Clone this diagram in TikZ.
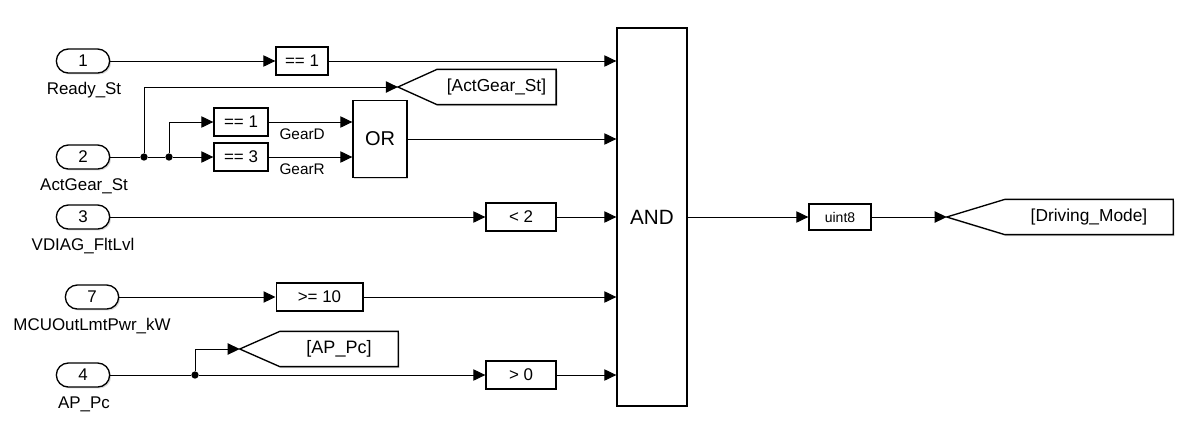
\documentclass[tikz,border=0pt]{standalone}
\usepackage{fontspec}
\setmainfont{Liberation Sans}
\usetikzlibrary{arrows.meta,shadows,calc}

\tikzset{
  blk/.style={draw, line width=1pt, fill=white,
    drop shadow={shadow xshift=1.1pt,shadow yshift=-1.1pt,fill=black!30}},
  inport/.style={blk, rounded corners=9pt, minimum width=40pt, minimum height=18pt, inner sep=0pt},
  cmpbox/.style={blk, minimum height=21pt, inner sep=0pt},
  tagtext/.style={minimum height=26pt, inner sep=0pt},
  lbl/.style={inner sep=0pt},
  sig/.style={line width=0.75pt},
  dot/.style={circle, fill, inner sep=0pt, minimum size=5.5pt},
  txt/.style={font=\fontsize{12.7}{15}\selectfont}
}

\begin{document}
\begin{tikzpicture}[x=0.75pt, y=-0.75pt, every node/.style={txt},
    >={Triangle[length=9pt,width=8.5pt]}]
  \useasboundingbox (0,0) rectangle (1185,426);

  % inports and their names
  \node[inport] (in1) at (83,61) {1};
  \node[lbl] (in1name) at (84,90) {Ready\_St};
  \node[inport] (in2) at (83,157) {2};
  \node[lbl] (in2name) at (84,186) {ActGear\_St};
  \node[inport] (in3) at (83,217) {3};
  \node[lbl] (in3name) at (83,246) {VDIAG\_FltLvl};
  \node[inport] (in7) at (92,297) {7};
  \node[lbl] (in7name) at (92,326) {MCUOutLmtPwr\_kW};
  \node[inport] (in4) at (83,375) {4};
  \node[lbl] (in4name) at (84,404) {AP\_Pc};

  % compare blocks
  \node[cmpbox, minimum width=39pt] (cmp1) at (302,61) {== 1};
  \node[cmpbox, minimum width=40.5pt] (cmpD) at (241,122) {== 1};
  \node[cmpbox, minimum width=40.5pt] (cmpR) at (241,157) {== 3};
  \node[cmpbox, minimum width=52.5pt] (cmp3) at (521,217) {< 2};
  \node[cmpbox, minimum width=65pt] (cmp7) at (319.5,297) {>= 10};
  \node[cmpbox, minimum width=52.5pt] (cmp4) at (521,375) {> 0};

  % logic blocks
  \node[blk, minimum width=40.5pt, minimum height=57.75pt,
    font=\fontsize{15}{18}\selectfont] (orblk) at (380,139) {OR};
  \node[blk, minimum width=52.5pt, minimum height=283.5pt,
    font=\fontsize{15.5}{18}\selectfont] (andblk) at (652,217) {AND};
  \node[cmpbox, minimum width=46.5pt, minimum height=19.5pt,
    font=\fontsize{10.5}{12}\selectfont] (cvt) at (840,217) {uint8};

  % goto tags
  \node[tagtext, minimum width=89pt, font=\fontsize{13}{15}\selectfont] (tagGear) at (496.5,87) {[ActGear\_St]};
  \coordinate (tagGearTip) at ($(tagGear.west)+(-39,0)$);
  \draw[blk] (tagGear.north west) -- (tagGear.north east) -- (tagGear.south east)
    -- (tagGear.south west) -- (tagGearTip) -- cycle;
  \node[tagtext, font=\fontsize{13}{15}\selectfont] at (tagGear) {[ActGear\_St]};

  \node[tagtext, minimum width=88.5pt, font=\fontsize{13.5}{15}\selectfont] (tagAP) at (339,349) {[AP\_Pc]};
  \coordinate (tagAPTip) at ($(tagAP.west)+(-40,0)$);
  \draw[blk] (tagAP.north west) -- (tagAP.north east) -- (tagAP.south east)
    -- (tagAP.south west) -- (tagAPTip) -- cycle;
  \node[tagtext, font=\fontsize{13.5}{15}\selectfont] at (tagAP) {[AP\_Pc]};

  \node[tagtext, minimum width=126pt, font=\fontsize{13}{15}\selectfont] (tagDrive) at (1089,217) {[Driving\_Mode]};
  \coordinate (tagDriveTip) at ($(tagDrive.west)+(-58,0)$);
  \draw[blk] (tagDrive.north west) -- (tagDrive.north east) -- (tagDrive.south east)
    -- (tagDrive.south west) -- (tagDriveTip) -- cycle;
  \node[tagtext, font=\fontsize{13}{15}\selectfont] at (tagDrive) {[Driving\_Mode]};

  % branch points
  \node[dot] (j1) at (144,157) {};
  \node[dot] (j2) at (169,157) {};
  \node[dot] (j3) at (195,375) {};

  % signal lines
  \draw[sig,->] (in1) -- (cmp1);
  \draw[sig,->] (cmp1) -- (cmp1 -| andblk.west);

  \draw[sig] (in2) -- (j1) -- (j2);
  \draw[sig,->] (j2) -- (cmpR);
  \draw[sig,->] (j2) |- (cmpD);
  \draw[sig,->] (j1) |- (tagGearTip);
  \draw[sig,->] (cmpD) -- (cmpD -| orblk.west)
    node[lbl, pos=0.4, below=5pt, font=\fontsize{11.5}{13}\selectfont] (gearD) {GearD};
  \draw[sig,->] (cmpR) -- (cmpR -| orblk.west)
    node[lbl, pos=0.4, below=5pt, font=\fontsize{11.5}{13}\selectfont] (gearR) {GearR};
  \draw[sig,->] (orblk) -- (orblk -| andblk.west);

  \draw[sig,->] (in3) -- (cmp3);
  \draw[sig,->] (cmp3) -- (cmp3 -| andblk.west);

  \draw[sig,->] (in7) -- (cmp7);
  \draw[sig,->] (cmp7) -- (cmp7 -| andblk.west);

  \draw[sig] (in4) -- (j3);
  \draw[sig,->] (j3) -- (cmp4);
  \draw[sig,->] (j3) |- (tagAPTip);
  \draw[sig,->] (cmp4) -- (cmp4 -| andblk.west);

  \draw[sig,->] (andblk) -- (cvt);
  \draw[sig,->] (cvt) -- (tagDriveTip);
\end{tikzpicture}
\end{document}
